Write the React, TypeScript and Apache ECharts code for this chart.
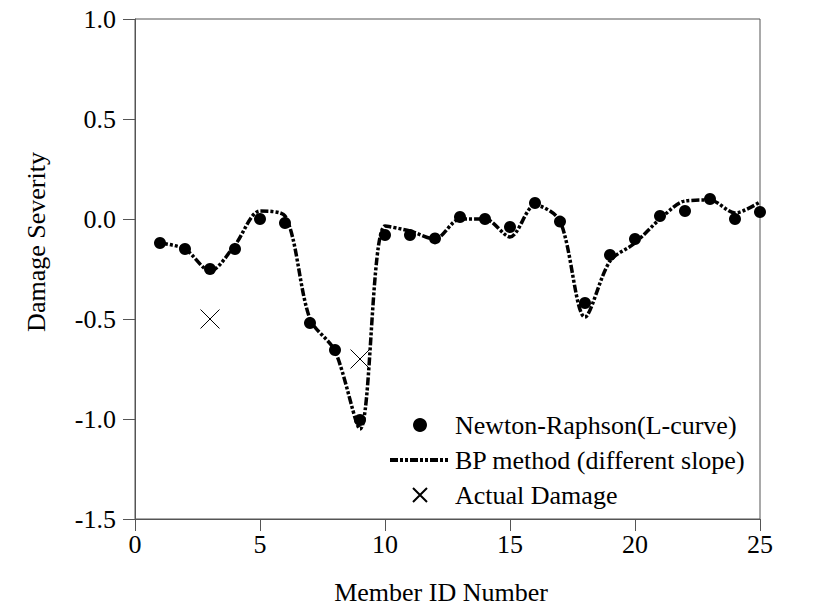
import React, { useEffect, useRef } from "react";
import * as echarts from "echarts";

const members = [1, 2, 3, 4, 5, 6, 7, 8, 9, 10, 11, 12, 13, 14, 15, 16, 17, 18, 19, 20, 21, 22, 23, 24, 25];
const newtonRaphson = [-0.12, -0.15, -0.25, -0.15, 0.0, -0.02, -0.52, -0.655, -1.005, -0.08, -0.08, -0.097, 0.01, 0.0, -0.04, 0.08, -0.013, -0.42, -0.18, -0.1, 0.015, 0.04, 0.1, 0.0, 0.035];
const bpMethod = [-0.12, -0.15, -0.26, -0.13, 0.04, 0.015, -0.5, -0.66, -1.05, -0.035, -0.06, -0.1, 0.0, 0.0, -0.09, 0.07, -0.01, -0.49, -0.21, -0.12, 0.0, 0.09, 0.095, 0.03, 0.085];
const damagedMembers = [3, 9];
const actualDamage = [-0.5, -0.7];
const seriesNames = ["Newton-Raphson(L-curve)", "BP method (different slope)", "Actual Damage"];

const FONT = "'Liberation Serif', 'Times New Roman', serif";

export default function App() {
  const ref = useRef<HTMLDivElement>(null);
  useEffect(() => {
    if (!ref.current) return;
    const chart = echarts.init(ref.current, null, { renderer: "svg" });
    chart.setOption({
      animation: false,
      backgroundColor: "#fff",
      grid: {
        left: 135,
        right: 80,
        top: 19,
        bottom: 92,
        show: true,
        borderColor: "#555",
        borderWidth: 1,
      },
      legend: {
        orient: "vertical",
        left: 383,
        top: 407,
        itemWidth: 60,
        itemHeight: 14,
        itemGap: 9,
        data: [
          { name: seriesNames[0] },
          {
            name: seriesNames[1],
            itemStyle: { color: "rgba(0,0,0,0)", borderWidth: 0, opacity: 0 },
            lineStyle: { width: 4, color: "#000", type: [8, 2, 3, 2, 3, 2] },
          },
          { name: seriesNames[2] },
        ],
        textStyle: { fontFamily: FONT, fontSize: 26, color: "#000" },
      },
      xAxis: {
        type: "value",
        min: 0,
        max: 25,
        interval: 5,
        name: "Member ID Number",
        nameLocation: "middle",
        nameGap: 60,
        nameTextStyle: { fontFamily: FONT, fontSize: 26, color: "#000", padding: [0, 13, 0, 0] },
        axisLine: { onZero: false, lineStyle: { color: "#555", width: 1 } },
        axisTick: { show: true, inside: false, length: 12, lineStyle: { color: "#555" } },
        axisLabel: { fontFamily: FONT, fontSize: 26, color: "#000", margin: 12 },
        splitLine: { show: false },
      },
      yAxis: {
        type: "value",
        min: -1.5,
        max: 1.0,
        interval: 0.5,
        name: "Damage Severity",
        nameLocation: "middle",
        nameGap: 86,
        nameTextStyle: { fontFamily: FONT, fontSize: 26, color: "#000", padding: [0, 0, 0, 54] },
        axisLine: { onZero: false, lineStyle: { color: "#555", width: 1 } },
        axisTick: { show: true, inside: false, length: 12, lineStyle: { color: "#555" } },
        axisLabel: {
          fontFamily: FONT,
          fontSize: 26,
          color: "#000",
          margin: 19,
          formatter: (v: number) => v.toFixed(1),
        },
        splitLine: { show: false },
      },
      series: [
        {
          name: seriesNames[0],
          type: "scatter",
          symbol: "circle",
          symbolSize: 12,
          itemStyle: { color: "#000", opacity: 1 },
          data: members.map((m, i) => [m, newtonRaphson[i]]),
          z: 3,
        },
        {
          name: seriesNames[1],
          type: "line",
          symbol: "none",
          smooth: 0.3,
          lineStyle: { color: "#000", width: 3.5, type: [8, 2, 3, 2, 3, 2] },
          itemStyle: { color: "#000" },
          data: members.map((m, i) => [m, bpMethod[i]]),
          z: 2,
        },
        {
          name: seriesNames[2],
          type: "scatter",
          symbol: "path://M0,0L20,20M20,0L0,20",
          symbolSize: 19,
          itemStyle: { color: "transparent", borderColor: "#000", borderWidth: 1, opacity: 1 },
          data: damagedMembers.map((m, i) => [m, actualDamage[i]]),
          z: 4,
        },
      ],
    });
    return () => chart.dispose();
  }, []);
  return (
    <div
      ref={ref}
      style={{ position: "fixed", left: 0, top: 0, width: 840, height: 611, background: "#fff" }}
    />
  );
}
